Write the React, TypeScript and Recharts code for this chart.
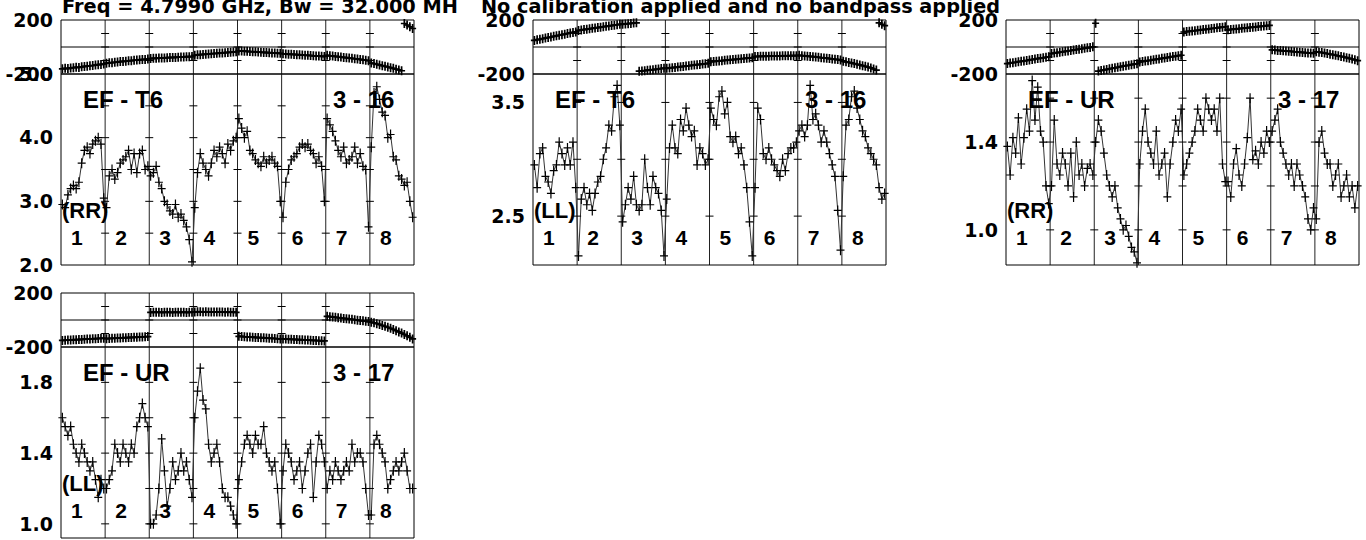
import { LineChart, Line, XAxis, YAxis, ReferenceLine, ReferenceDot } from "recharts";

// POSSM-style spectrum: 8 IFs, 16 channels plotted per IF
const CH = 16;
const NIF = 8;
const ifNames = ["1", "2", "3", "4", "5", "6", "7", "8"];
const ifMinorTicks = [5, 9.5, 14];
const phaseTicks = [-200, -100, 0, 100, 200];
const phaseLabelled = [-200, 200];

const phaseEfT6RR = [
  [-162, -158, -160, -155, -153, -150, -151, -147, -144, -142, -139, -137, -134, -131, -129, -126],
  [-120, -117, -116, -113, -112, -108, -107, -105, -102, -101, -98, -97, -95, -93, -92, -89],
  [-86, -84, -84, -82, -81, -81, -79, -78, -77, -77, -75, -74, -74, -72, -72, -71],
  [-61, -58, -57, -55, -53, -52, -50, -48, -47, -45, -44, -42, -40, -39, -37, -36],
  [-29, -30, -31, -32, -34, -35, -36, -37, -39, -40, -41, -42, -44, -45, -46, -47],
  [-50, -51, -53, -54, -55, -57, -58, -59, -61, -62, -63, -65, -66, -67, -69, -70],
  [-62, -65, -67, -70, -72, -74, -77, -79, -82, -84, -87, -89, -92, -95, -98, -101],
  [-119, -123, -128, -133, -138, -143, -148, -153, -158, -164, -170, -176, 174, 163, 150, 137],
];
const ampEfT6RR = [
  [2.95, 2.9, 3.1, 3.2, 3.25, 3.2, 3.3, 3.6, 3.8, 3.85, 3.75, 3.9, 3.95, 4.0, 3.9, 3.05],
  [2.9, 3.4, 3.5, 3.35, 3.45, 3.6, 3.65, 3.7, 3.8, 3.5, 3.75, 3.45, 3.75, 3.8, 3.5, 3.55],
  [3.4, 3.45, 3.55, 3.3, 3.2, 3.0, 2.95, 2.85, 2.8, 2.95, 2.75, 2.8, 2.7, 2.6, 2.4, 2.05],
  [2.9, 3.45, 3.75, 3.6, 3.5, 3.4, 3.6, 3.8, 3.7, 3.85, 3.75, 3.6, 3.9, 3.8, 3.95, 4.0],
  [4.3, 4.15, 4.0, 4.1, 3.8, 3.75, 3.65, 3.6, 3.55, 3.7, 3.6, 3.65, 3.7, 3.6, 3.55, 3.0],
  [2.75, 3.3, 3.5, 3.65, 3.7, 3.75, 3.85, 3.9, 3.85, 3.9, 3.8, 3.75, 3.6, 3.7, 3.55, 3.0],
  [4.3, 4.2, 4.1, 3.95, 3.8, 3.7, 3.85, 3.6, 3.65, 3.7, 3.85, 3.6, 3.75, 3.55, 3.5, 2.6],
  [3.85, 4.7, 4.8, 4.6, 4.4, 4.35, 4.0, 4.05, 3.7, 3.65, 3.4, 3.35, 3.25, 3.3, 3.0, 2.75],
];

const phaseEfT6LL = [
  [49, 54, 57, 62, 66, 70, 74, 79, 83, 87, 91, 95, 100, 104, 108, 112],
  [123, 126, 129, 132, 135, 138, 141, 144, 147, 150, 153, 156, 159, 162, 165, 168],
  [169, 171, 173, 175, 177, 179, -179, -177, -175, -172, -170, -168, -165, -163, -160, -157],
  [-158, -155, -153, -151, -149, -146, -144, -141, -139, -136, -134, -131, -129, -126, -124, -121],
  [-109, -107, -105, -103, -101, -99, -97, -95, -93, -91, -89, -87, -85, -83, -82, -80],
  [-71, -70, -69, -69, -68, -68, -67, -67, -66, -66, -65, -65, -65, -64, -64, -64],
  [-62, -64, -66, -68, -70, -72, -74, -76, -79, -81, -83, -86, -88, -91, -93, -96],
  [-106, -110, -114, -118, -123, -128, -133, -138, -143, -149, -155, -163, -171, 179, 168, 158],
];
const ampEfT6LL = [
  [2.95, 2.75, 3.05, 3.1, 2.85, 2.8, 2.7, 2.9, 2.95, 3.15, 3.05, 2.95, 3.1, 2.95, 3.15, 2.75],
  [2.15, 2.65, 2.75, 2.6, 2.7, 2.55, 2.7, 2.8, 2.85, 3.0, 3.1, 3.3, 3.25, 3.55, 3.65, 3.3],
  [2.45, 2.6, 2.75, 2.65, 2.85, 2.6, 2.55, 2.6, 3.0, 2.75, 2.6, 2.85, 2.75, 2.7, 2.55, 2.15],
  [2.65, 3.1, 3.3, 3.1, 3.05, 3.35, 3.25, 3.45, 3.3, 3.2, 3.25, 2.95, 3.1, 3.05, 2.95, 3.0],
  [3.45, 3.35, 3.3, 3.55, 3.6, 3.4, 3.5, 3.2, 3.15, 3.2, 3.05, 3.1, 2.95, 2.75, 2.45, 2.15],
  [2.75, 3.45, 3.35, 3.05, 3.0, 3.1, 3.0, 2.95, 2.9, 2.85, 3.0, 2.9, 3.05, 3.1, 3.1, 3.15],
  [3.25, 3.3, 3.2, 3.3, 3.65, 3.35, 3.4, 3.3, 3.15, 3.25, 3.15, 3.05, 2.95, 2.85, 2.55, 2.2],
  [2.85, 3.3, 3.35, 3.55, 3.6, 3.45, 3.35, 3.25, 3.2, 3.1, 3.05, 3.0, 2.95, 2.75, 2.65, 2.7],
];

const phaseEfUrRR = [
  [-123, -119, -116, -113, -109, -106, -103, -100, -96, -93, -89, -86, -83, -80, -76, -73],
  [-49, -45, -42, -39, -36, -32, -29, -26, -22, -19, -16, -13, -9, -6, -3, 1],
  [176, -178, -174, -170, -166, -162, -158, -154, -150, -146, -142, -138, -135, -131, -127, -124],
  [-111, -107, -104, -101, -98, -94, -91, -88, -84, -81, -78, -74, -71, -68, -64, -61],
  [111, 114, 116, 119, 121, 124, 126, 129, 131, 134, 137, 139, 142, 145, 147, 150],
  [127, 130, 132, 134, 136, 138, 140, 142, 145, 147, 149, 151, 153, 155, 158, 160],
  [-21, -23, -25, -26, -28, -30, -31, -33, -35, -37, -38, -40, -42, -44, -45, -47],
  [-35, -38, -41, -45, -49, -53, -57, -61, -65, -70, -74, -79, -84, -89, -95, -101],
];
const ampEfUrRR = [
  [1.38, 1.25, 1.42, 1.35, 1.51, 1.3, 1.42, 1.55, 1.45, 1.68, 1.5, 1.65, 1.45, 1.4, 1.2, 1.12],
  [1.2, 1.5, 1.3, 1.25, 1.35, 1.3, 1.2, 1.35, 1.15, 1.4, 1.25, 1.3, 1.2, 1.28, 1.3, 1.25],
  [1.4, 1.5, 1.45, 1.35, 1.25, 1.2, 1.15, 1.2, 1.1, 1.05, 1.0, 1.02, 0.97, 0.92, 0.9, 0.85],
  [1.3, 1.45, 1.55, 1.4, 1.35, 1.3, 1.45, 1.25, 1.3, 1.35, 1.15, 1.3, 1.4, 1.5, 1.45, 1.55],
  [1.25, 1.3, 1.35, 1.4, 1.45, 1.55, 1.5, 1.45, 1.6, 1.55, 1.5, 1.55, 1.45, 1.6, 1.3, 1.22],
  [1.22, 1.15, 1.3, 1.37, 1.25, 1.2, 1.3, 1.42, 1.6, 1.32, 1.36, 1.3, 1.4, 1.35, 1.45, 1.4],
  [1.45, 1.5, 1.55, 1.4, 1.35, 1.3, 1.25, 1.3, 1.2, 1.3, 1.25, 1.2, 1.15, 1.05, 1.0, 1.1],
  [1.05, 1.4, 1.45, 1.35, 1.3, 1.3, 1.2, 1.25, 1.3, 1.15, 1.2, 1.25, 1.15, 1.2, 1.1, 1.2],
];

const phaseEfUrLL = [
  [-151, -150, -149, -148, -147, -146, -145, -144, -142, -141, -140, -139, -138, -137, -136, -135],
  [-138, -137, -136, -135, -134, -133, -132, -131, -130, -129, -128, -127, -126, -125, -124, -123],
  [56, 58, 57, 58, 56, 57, 58, 57, 56, 58, 57, 57, 58, 56, 57, 58],
  [60, 61, 61, 60, 61, 60, 59, 60, 59, 60, 59, 58, 59, 58, 58, 57],
  [-121, -122, -124, -125, -126, -127, -129, -130, -131, -132, -134, -135, -136, -137, -139, -140],
  [-140, -141, -142, -143, -144, -145, -146, -147, -148, -149, -150, -151, -152, -153, -154, -155],
  [27, 25, 22, 20, 17, 15, 12, 10, 7, 5, 2, -1, -4, -6, -9, -12],
  [-16, -21, -27, -33, -40, -47, -54, -62, -70, -79, -88, -97, -107, -117, -128, -140],
];
const ampEfUrLL = [
  [1.6, 1.55, 1.5, 1.55, 1.45, 1.4, 1.35, 1.45, 1.4, 1.35, 1.3, 1.35, 1.25, 1.15, 1.25, 1.2],
  [1.2, 1.25, 1.3, 1.45, 1.4, 1.35, 1.45, 1.4, 1.35, 1.45, 1.4, 1.55, 1.6, 1.68, 1.6, 1.55],
  [1.0, 1.0, 1.05, 1.2, 1.48, 1.3, 1.1, 1.2, 1.35, 1.25, 1.3, 1.4, 1.3, 1.35, 1.25, 1.15],
  [1.6, 1.75, 1.88, 1.7, 1.65, 1.45, 1.35, 1.4, 1.45, 1.35, 1.2, 1.15, 1.15, 1.1, 1.05, 1.0],
  [1.25, 1.35, 1.45, 1.5, 1.45, 1.4, 1.5, 1.45, 1.45, 1.55, 1.4, 1.35, 1.3, 1.35, 1.2, 1.0],
  [1.3, 1.45, 1.4, 1.35, 1.25, 1.3, 1.35, 1.2, 1.3, 1.4, 1.45, 1.15, 1.35, 1.5, 1.45, 1.35],
  [1.2, 1.3, 1.25, 1.35, 1.3, 1.25, 1.3, 1.35, 1.3, 1.45, 1.35, 1.4, 1.4, 1.35, 1.2, 1.05],
  [1.05, 1.45, 1.5, 1.45, 1.4, 1.35, 1.2, 1.25, 1.3, 1.35, 1.3, 1.35, 1.4, 1.3, 1.2, 1.2],
];

const W = 353;
const PH = 54;
const AH = 191;

const xTicks: number[] = [];
for (let i = 0; i <= NIF; i++) {
  xTicks.push(i * CH);
  if (i < NIF) ifMinorTicks.forEach((m) => xTicks.push(i * CH + m));
}

function rows(vals: number[][], wrap: boolean) {
  const out: { x: number; v: number | null }[] = [];
  let prev: number | null = null;
  vals.forEach((ifVals, i) =>
    ifVals.forEach((v, k) => {
      const x = i * CH + k + 0.5;
      // phase wraps (and big jumps between IFs) break the line
      if (wrap && prev !== null && Math.abs(v - prev) > 100) out.push({ x: x - 0.5, v: null });
      out.push({ x, v });
      prev = v;
    })
  );
  return out;
}

const makePlus = (h: number, v: number, sw: number) => (props: any) => {
  const { cx, cy, index, value } = props;
  if (cx == null || cy == null || value == null) return <g key={`p${index}`} />;
  return (
    <path key={`p${index}`} d={`M${cx - h},${cy}h${2 * h}M${cx},${cy - v}v${2 * v}`}
      stroke="#000" strokeWidth={sw} fill="none" />
  );
};
const phasePlus = makePlus(3.5, 4.5, 1.7);
const ampPlus = makePlus(4, 5, 1.2);

const DivTick = (props: any) => (
  <line x1={props.cx - 4} x2={props.cx + 4} y1={props.cy} y2={props.cy} stroke="#000" strokeWidth={1} />
);

const tickFont = { fill: "#000", fontSize: 19, fontWeight: "bold", fontFamily: "DejaVu Sans" };

type BoxProps = {
  left: number;
  top: number;
  height: number;
  data: { x: number; v: number | null }[];
  domain: [number, number];
  ticks: number[];
  labelled: number[];
  digits: number;
  midline?: boolean;
  dot: (p: any) => any;
  lineWidth: number;
};

function Box({ left, top, height, data, domain, ticks, labelled, digits, midline, dot, lineWidth }: BoxProps) {
  const inner = ticks.filter((t) => t > domain[0] && t < domain[1]);
  const dividers = [1, 2, 3, 4, 5, 6, 7].map((i) => i * CH);
  return (
    <LineChart
      width={W + 70}
      height={height + 20}
      data={data}
      margin={{ top: 10, right: 10, bottom: 10, left: 0 }}
      style={{ position: "absolute", left: left - 60, top: top - 10 }}
    >
      <XAxis xAxisId="b" dataKey="x" type="number" domain={[0, NIF * CH]} ticks={xTicks} interval={0}
        mirror tick={false} tickSize={5} stroke="#000" height={10} />
      <XAxis xAxisId="t" orientation="top" type="number" domain={[0, NIF * CH]} allowDataOverflow ticks={xTicks}
        interval={0} mirror tick={false} tickSize={5} stroke="#000" height={10} />
      <YAxis yAxisId="v" type="number" domain={domain} ticks={ticks} interval={0} width={60}
        tickLine={false} axisLine={false} tickSize={0} tickMargin={8} tick={tickFont}
        tickFormatter={(t: number) => (labelled.includes(t) ? t.toFixed(digits) : "")} />
      <YAxis yAxisId="lm" type="number" domain={domain} allowDataOverflow ticks={ticks} interval={0}
        mirror tick={false} tickSize={5} stroke="#000" width={10} />
      <YAxis yAxisId="rm" orientation="right" type="number" domain={domain} allowDataOverflow ticks={ticks}
        interval={0} mirror tick={false} tickSize={5} stroke="#000" width={10} />
      {dividers.map((d) => (
        <ReferenceLine key={`d${d}`} xAxisId="b" yAxisId="v" x={d} stroke="#222" strokeWidth={1} />
      ))}
      {midline && <ReferenceLine xAxisId="b" yAxisId="v" y={0} stroke="#000" strokeWidth={1} />}
      {dividers.flatMap((d) =>
        inner.map((t) => (
          <ReferenceDot key={`t${d}-${t}`} xAxisId="b" yAxisId="v" x={d} y={t} r={0} shape={DivTick} />
        ))
      )}
      <Line xAxisId="b" yAxisId="v" dataKey="v" type="linear" stroke="#333" strokeWidth={lineWidth}
        dot={dot} activeDot={false} isAnimationActive={false} connectNulls={false} />
    </LineChart>
  );
}

type PanelProps = {
  left: number;
  top: number;
  base: string;
  pair: string;
  pol: string;
  phase: number[][];
  amp: number[][];
  ampDomain: [number, number];
  ampTicks: number[];
  ampLabelled: number[];
};

function Panel({ left, top, base, pair, pol, phase, amp, ampDomain, ampTicks, ampLabelled }: PanelProps) {
  const at = top + PH;
  const lab = { fontFamily: "Liberation Sans", fontWeight: "bold", fill: "#000" } as const;
  return (
    <>
      <Box left={left} top={top} height={PH} data={rows(phase, true)} domain={[-200, 200]}
        ticks={phaseTicks} labelled={phaseLabelled} digits={0} midline dot={phasePlus} lineWidth={2} />
      <Box left={left} top={at} height={AH} data={rows(amp, false)} domain={ampDomain}
        ticks={ampTicks} labelled={ampLabelled} digits={1} dot={ampPlus} lineWidth={1} />
      <svg width={1366} height={540} style={{ position: "absolute", left: 0, top: 0, pointerEvents: "none" }}>
        <text x={left + 22} y={at + 34} fontSize={24} {...lab}>{base}</text>
        <text x={left + 272} y={at + 34} fontSize={24} {...lab}>{pair}</text>
        <text x={left + 1} y={at + 144} fontSize={22} {...lab}>{pol}</text>
        {ifNames.map((n, i) => (
          <text key={n} x={left + (i * W) / NIF + 10} y={at + 171} fontSize={21} {...lab}>{n}</text>
        ))}
      </svg>
    </>
  );
}

export default function App() {
  return (
    <div style={{ position: "absolute", left: 0, top: 0, width: 1366, height: 540, background: "#fff", overflow: "hidden" }}>
      <svg width={1366} height={540} style={{ position: "absolute", left: 0, top: 0 }}>
        <text x={62} y={13} fontSize={19} fontWeight="bold" fontFamily="DejaVu Sans" textLength={396}
          lengthAdjust="spacingAndGlyphs">Freq = 4.7990 GHz, Bw = 32.000 MH</text>
        <text x={481} y={13} fontSize={19} fontWeight="bold" fontFamily="DejaVu Sans" textLength={519}
          lengthAdjust="spacingAndGlyphs">No calibration applied and no bandpass applied</text>
      </svg>
      <Panel left={61} top={20} base="EF - T6" pair="3 - 16" pol="(RR)" phase={phaseEfT6RR} amp={ampEfT6RR}
        ampDomain={[2, 5]} ampTicks={[2, 2.5, 3, 3.5, 4, 4.5, 5]} ampLabelled={[2, 3, 4, 5]} />
      <Panel left={533} top={20} base="EF - T6" pair="3 - 16" pol="(LL)" phase={phaseEfT6LL} amp={ampEfT6LL}
        ampDomain={[2.07, 3.75]} ampTicks={[2.5, 3, 3.5]} ampLabelled={[2.5, 3.5]} />
      <Panel left={1006} top={20} base="EF - UR" pair="3 - 17" pol="(RR)" phase={phaseEfUrRR} amp={ampEfUrRR}
        ampDomain={[0.84, 1.71]} ampTicks={[1.0, 1.2, 1.4, 1.6]} ampLabelled={[1.0, 1.4]} />
      <Panel left={61} top={293} base="EF - UR" pair="3 - 17" pol="(LL)" phase={phaseEfUrLL} amp={ampEfUrLL}
        ampDomain={[0.92, 2.0]} ampTicks={[1.0, 1.2, 1.4, 1.6, 1.8, 2.0]} ampLabelled={[1.0, 1.4, 1.8]} />
    </div>
  );
}
